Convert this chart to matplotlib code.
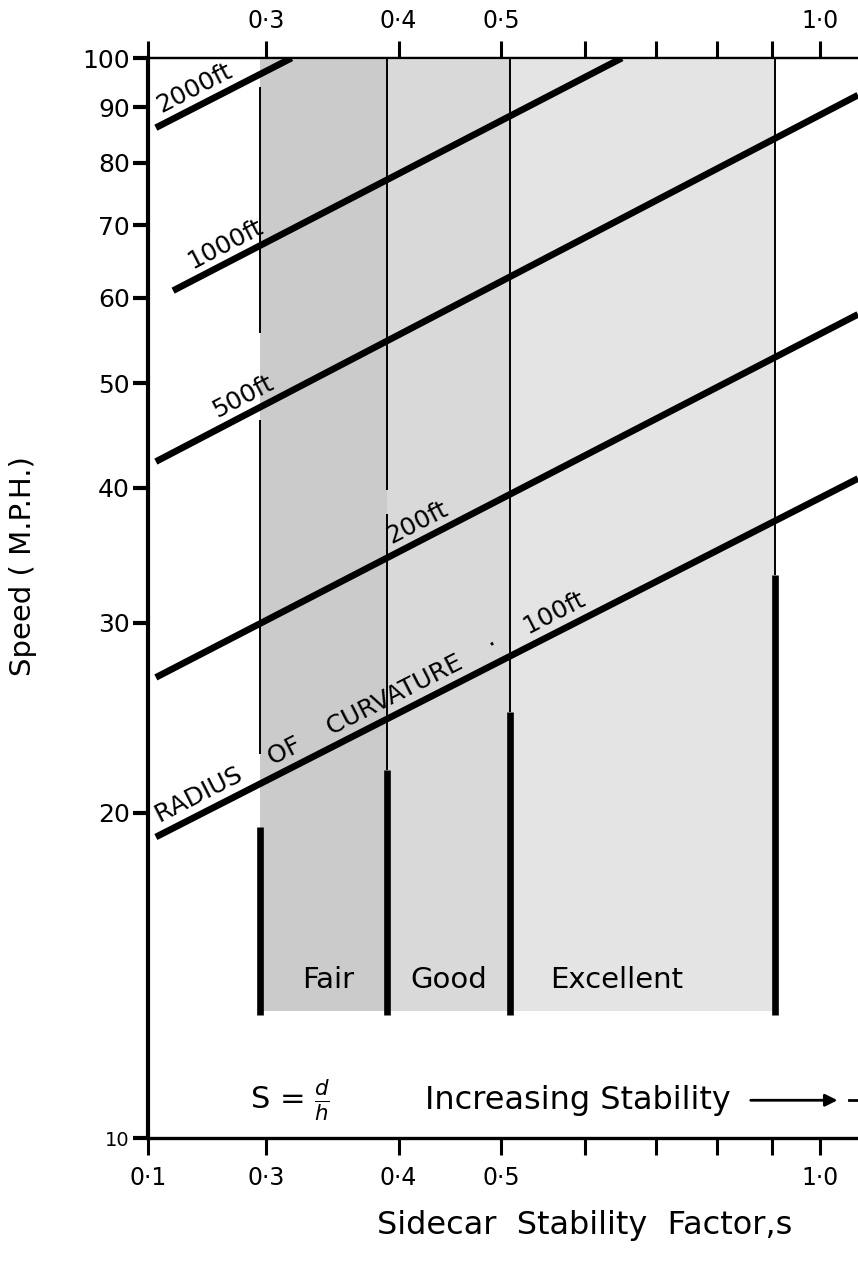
import numpy as np
import matplotlib.pyplot as plt
from matplotlib.ticker import FixedLocator, NullFormatter, NullLocator

plt.rcParams['font.family'] = ['DejaVu Sans']
plt.rcParams['mathtext.fontset'] = 'dejavusans'

# axis ranges (x starts at a broken origin labelled 0·1, runs off the right edge)
s_lim = [0.232, 1.086]
speed_lim = [10, 100]

# radius of curvature lines, end points (S, mph)
radii = ['2000ft', '1000ft', '500ft', '200ft', '100ft']
line_s = [[0.236, 0.317], [0.245, 0.650], [0.236, 1.086], [0.236, 1.086], [0.236, 1.086]]
line_mph = [[86.2, 100.0], [60.9, 100.0], [42.3, 92.4], [26.7, 57.9], [19.0, 40.8]]

# where each line label sits (S along the line)
label_s = [0.261, 0.279, 0.290, 0.424, 0.383]
label_text = ['2000ft', '1000ft', '500ft', '200ft', 'RADIUS    OF    CURVATURE    ·    100ft']

# stability zones
zone_names = ['Fair', 'Good', 'Excellent']
zone_edges = [0.296, 0.390, 0.510, 0.906]
zone_colors = ['#cbcbcb', '#d9d9d9', '#e4e4e4']
zone_label_s = [0.343, 0.446, 0.643]
zone_label_mph = 14.0
zone_bottom = 13.1
# thin parts of each boundary (mph ranges), gaps where labels cross
thin_parts = [[(55.7, 94.0), (22.7, 46.2)],
              [(39.8, 100.0), (21.9, 37.8)],
              [(24.8, 100.0)],
              [(33.2, 100.0)]]
heavy_from = [19.4, 21.9, 24.8, 33.2]

x_ticks = [0.232, 0.3, 0.4, 0.5, 1.0]
x_labels = ['0·1', '0·3', '0·4', '0·5', '1·0']
x_minor = [0.6, 0.7, 0.8, 0.9]
y_ticks = [10, 20, 30, 40, 50, 60, 70, 80, 90, 100]

fig = plt.figure(figsize=(8.58, 12.73), dpi=100)
ax = fig.add_axes([0.1725, 0.106, 0.8275, 0.8484])
ax.set_xscale('log')
ax.set_yscale('log')
ax.set_xlim(s_lim)
ax.set_ylim(speed_lim)

# shaded zones
for i, name in enumerate(zone_names):
    ax.fill_between([zone_edges[i], zone_edges[i + 1]], zone_bottom, speed_lim[1],
                    color=zone_colors[i], lw=0, zorder=1)
    ax.text(zone_label_s[i], zone_label_mph, name, ha='center', va='center',
            fontsize=21, zorder=5)

# zone boundaries: thin above, heavy below
for i, e in enumerate(zone_edges):
    for lo, hi in thin_parts[i]:
        ax.vlines(e, lo, hi, color='black', lw=1.4, zorder=2)
    ax.vlines(e, zone_bottom - 0.1, heavy_from[i], color='black', lw=4.8, zorder=2)

# radius lines
for s, v in zip(line_s, line_mph):
    ax.plot(s, v, color='black', lw=4.8, solid_capstyle='butt', zorder=3)

fig.canvas.draw()
for s, v, ls, txt in zip(line_s, line_mph, label_s, label_text):
    lv = 10 ** np.interp(np.log10(ls), np.log10(s), np.log10(v))
    p1 = ax.transData.transform((s[0], v[0]))
    p2 = ax.transData.transform((s[1], v[1]))
    ang = np.arctan2(p2[1] - p1[1], p2[0] - p1[0])
    off = 12.5
    ax.annotate(txt, xy=(ls, lv), xytext=(-off * np.sin(ang), off * np.cos(ang)),
                textcoords='offset points', ha='center', va='center',
                rotation=np.degrees(ang), rotation_mode='anchor', fontsize=18, zorder=5)

# axes styling
ax.spines['right'].set_visible(False)
ax.spines['left'].set_linewidth(3)
ax.spines['bottom'].set_linewidth(2.4)
ax.spines['top'].set_linewidth(1.6)

ax.yaxis.set_major_locator(FixedLocator(y_ticks))
ax.yaxis.set_minor_locator(NullLocator())
ax.set_yticklabels([str(t) for t in y_ticks])
ax.tick_params(axis='y', which='major', direction='out', length=11, width=3,
               labelsize=18, pad=2)
ax.get_yticklabels()[0].set_fontsize(14)

ax.xaxis.set_major_locator(FixedLocator(x_ticks))
ax.xaxis.set_minor_locator(FixedLocator(x_minor))
ax.xaxis.set_minor_formatter(NullFormatter())
ax.set_xticklabels(x_labels)
ax.tick_params(axis='x', which='both', direction='out', length=12, width=2.2,
               labelsize=17, pad=8)

top = ax.secondary_xaxis('top')
top.set_xticks(x_ticks, labels=[''] + x_labels[1:])
top.xaxis.set_minor_locator(FixedLocator(x_minor))
top.xaxis.set_minor_formatter(NullFormatter())
top.tick_params(axis='x', which='both', direction='out', length=12, width=2.2,
                labelsize=17, pad=6)
top.spines['top'].set_linewidth(1.6)

ax.set_ylabel('Speed ( M.P.H.)', fontsize=21)
ax.yaxis.set_label_coords(-0.156, 0.53)
ax.text(0.615, -0.081, 'Sidecar  Stability  Factor,s', transform=ax.transAxes,
        ha='center', va='center', fontsize=23)

ax.text(0.143, 0.035, r'S = $\frac{d}{h}$', transform=ax.transAxes,
        ha='left', va='center', fontsize=22)
ax.text(0.39, 0.035, 'Increasing Stability', transform=ax.transAxes,
        ha='left', va='center', fontsize=23)
ax.annotate('', xy=(0.975, 0.035), xytext=(0.845, 0.035), xycoords='axes fraction',
            arrowprops=dict(arrowstyle='-|>', lw=2, color='black', mutation_scale=18))
ax.plot([0.988, 1.0], [0.035, 0.035], color='black', lw=2,
        transform=ax.transAxes, clip_on=False)

fig.savefig('out.png', dpi=100)
